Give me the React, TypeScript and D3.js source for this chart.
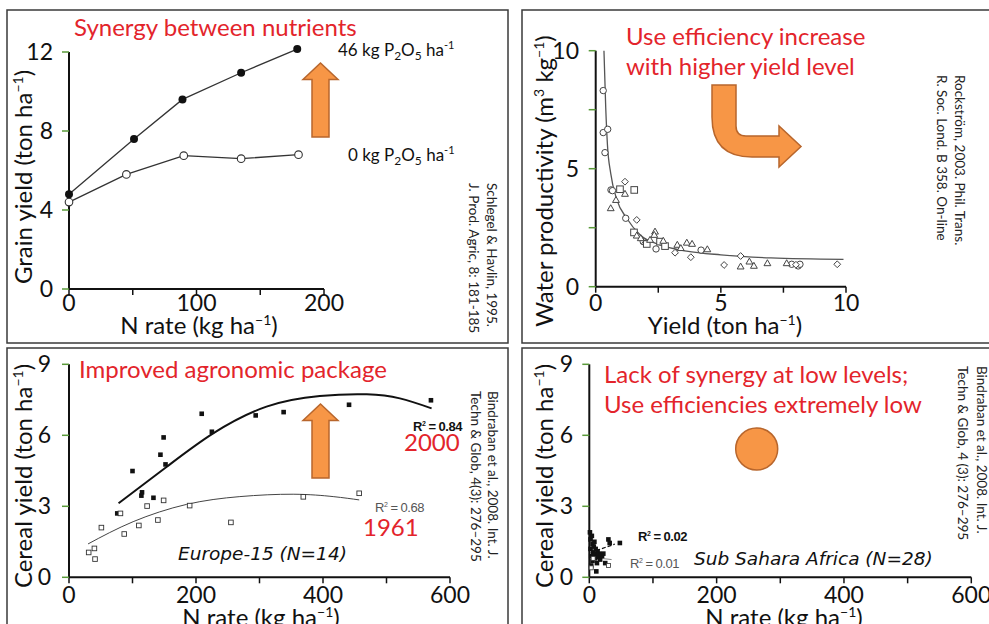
import React from "react";
import * as d3 from "d3";

// panel 1 - Schlegel & Havlin
const p1RateP46 = [0, 51, 89, 135, 179];
const p1YieldP46 = [4.8, 7.6, 9.6, 10.95, 12.15];
const p1RateP0 = [0, 45, 90, 135, 180];
const p1YieldP0 = [4.4, 5.8, 6.75, 6.6, 6.8];
const p1XTicks = [0, 50, 100, 150, 200];
const p1XLabels = [0, 100, 200];
const p1YTicks = [0, 4, 8, 12];

// panel 2 - Rockstrom, water productivity vs yield
const p2CircleX = [0.3, 0.3, 0.48, 0.37, 0.61, 0.67, 1.2, 1.9, 2.41, 4.21, 7.83, 8.09, 8.16];
const p2CircleY = [8.31, 6.53, 6.67, 5.68, 4.1, 4.07, 2.9, 1.91, 1.6, 1.55, 0.95, 0.88, 0.95];
const p2DiamondX = [1.17, 1.64, 1.97, 3.17, 3.8, 5.13, 5.79, 8.0, 9.65];
const p2DiamondY = [4.45, 2.83, 1.84, 1.44, 1.25, 0.92, 1.3, 0.93, 0.95];
const p2SquareX = [0.97, 1.54, 1.53, 2.04, 2.57, 2.77];
const p2SquareY = [4.13, 4.1, 2.3, 1.81, 1.91, 1.72];
const p2TriangleX = [1.17, 0.81, 0.6, 1.64, 2.37, 2.34, 1.8, 2.17, 2.7, 3.26, 3.4, 3.64, 3.85, 4.46, 5.79, 6.14, 6.32, 6.86, 7.63];
const p2TriangleY = [3.93, 3.67, 3.32, 2.16, 2.33, 2.19, 2.05, 1.98, 1.94, 1.77, 1.63, 1.86, 1.81, 1.58, 0.85, 1.06, 0.88, 0.99, 0.99];
const p2FitX = [0.33, 0.4, 0.47, 0.6, 0.84, 1.24, 1.77, 2.57, 3.63, 5, 7, 9.9];
const p2FitY = [10, 7.6, 6.0, 4.8, 3.7, 2.9, 2.2, 1.77, 1.51, 1.35, 1.22, 1.16];
const p2XTicks = [0, 2.5, 5, 7.5, 10];
const p2XLabels = [0, 5, 10];
const p2YTicks = [0, 2.5, 5, 7.5, 10];
const p2YLabels = [0, 5, 10];

// panel 3 - Europe-15
const eu2000N = [76, 100, 114, 115, 133, 144, 149, 152, 209, 225, 294, 338, 441, 570];
const eu2000Y = [2.7, 4.49, 3.45, 3.59, 3.36, 5.18, 5.91, 4.77, 6.91, 6.15, 6.84, 6.98, 7.29, 7.48];
const eu1961N = [31, 40, 41, 51, 81, 87, 110, 123, 140, 149, 190, 255, 369, 457];
const eu1961Y = [1.05, 1.22, 0.77, 2.1, 2.7, 1.83, 2.19, 3.01, 2.42, 3.25, 3.03, 2.32, 3.4, 3.55];
const eu2000FitN = [78, 154, 227, 311, 395, 469, 521, 571];
const eu2000FitY = [3.13, 4.67, 6.08, 7.21, 7.66, 7.73, 7.56, 7.14];
const eu1961FitN = [30, 101, 185, 269, 353, 416, 457];
const eu1961FitY = [1.41, 2.35, 3.08, 3.41, 3.51, 3.41, 3.27];

// panel 4 - Sub Sahara Africa
const ssa2000N = [1, 2, 2, 3, 3, 4, 5, 5, 6, 7, 8, 8, 9, 10, 11, 12, 13, 14, 15, 17, 18, 20, 22, 25, 30, 32, 48, 11];
const ssa2000Y = [1.9, 1.6, 1.2, 0.9, 0.5, 1.75, 1.4, 0.7, 1.05, 1.3, 0.95, 1.5, 0.8, 1.2, 1.0, 0.6, 1.1, 0.85, 1.0, 0.75, 0.95, 0.9, 1.0, 0.6, 1.6, 1.45, 1.45, 0.25];
const ssa1961N = [3, 6, 30];
const ssa1961Y = [0.4, 0.8, 0.5];
const ssa2000FitN = [2, 40];
const ssa2000FitY = [1.05, 1.4];
const ssa1961FitN = [2, 35];
const ssa1961FitY = [0.85, 0.75];

const euXTicks = [0, 100, 200, 300, 400, 500, 600];
const euXLabels = [0, 200, 400, 600];
const euYTicks = [0, 3, 6, 9];

const RED = "#e3242b";
const ORANGE = "#f79646";
const ORANGE_EDGE = "#b8662c";
const FONT = "Lato, 'Open Sans', sans-serif";

// text with a superscript in the middle: before, sup, after
const supText = (before: string, sup: string, after = "", size = 14, up = 9) => [
  <tspan key="a">{before}</tspan>,
  <tspan key="b" dy={-up} fontSize={size}>{sup}</tspan>,
  after ? <tspan key="c" dy={up}>{after}</tspan> : null,
];

const Axes = ({ x, y, xTicks, xLabels, yTicks, yLabels, yLabelX, xLabelY }: any) => {
  const [x0, x1] = x.range();
  const [y0, y1] = y.range();
  return (
    <g fontFamily={FONT} fontSize={23} fill="#111">
      <line x1={x0} x2={x1} y1={y0} y2={y0} stroke="#111" strokeWidth={2} />
      <line x1={x0} x2={x0} y1={y0} y2={y1} stroke="#111" strokeWidth={2} />
      {xTicks.map((t: number) => (
        <line key={"xt" + t} x1={x(t)} x2={x(t)} y1={y0} y2={y0 + 6} stroke="#111" strokeWidth={1.5} />
      ))}
      {yTicks.map((t: number) => (
        <line key={"yt" + t} x1={x0 - 7} x2={x0} y1={y(t)} y2={y(t)} stroke="#5a9a3a" strokeWidth={1.5} />
      ))}
      {xLabels.map((t: number) => (
        <text key={"xl" + t} x={x(t)} y={xLabelY} textAnchor="middle">{t}</text>
      ))}
      {yLabels.map((t: number) => (
        <text key={"yl" + t} x={yLabelX} y={y(t) + 8} textAnchor="end">{t}</text>
      ))}
    </g>
  );
};

const Citation = ({ x1, x2, y, l1, l2 }: any) => (
  <g fontFamily={FONT} fontSize={13.5} fill="#222">
    <text transform={`translate(${x1},${y}) rotate(90)`}>{l1}</text>
    <text transform={`translate(${x2},${y}) rotate(90)`}>{l2}</text>
  </g>
);

const upArrow = (top: number) => {
  const hb = top + 16.5;
  const bot = top + 74;
  return `M312,${bot} L312,${hb} L303,${hb} L320.5,${top} L338,${hb} L329,${hb} L329,${bot} Z`;
};

const triangle = (cx: number, cy: number, s: number) =>
  `M${cx},${cy - s} L${cx + s * 0.95},${cy + s * 0.65} L${cx - s * 0.95},${cy + s * 0.65} Z`;
const diamond = (cx: number, cy: number, s: number) =>
  `M${cx},${cy - s} L${cx + s},${cy} L${cx},${cy + s} L${cx - s},${cy} Z`;

const P2O5 = (lead: string) => [
  <tspan key="a">{lead}P</tspan>,
  <tspan key="b" dy={4} fontSize={12}>2</tspan>,
  <tspan key="c" dy={-4}>O</tspan>,
  <tspan key="d" dy={4} fontSize={12}>5</tspan>,
  <tspan key="e" dy={-4}> ha</tspan>,
  <tspan key="f" dy={-7} fontSize={11}>-1</tspan>,
];

export default function App() {
  const x1 = d3.scaleLinear().domain([0, 200]).range([69, 324]);
  const y1 = d3.scaleLinear().domain([0, 12]).range([289, 52]);
  const x2 = d3.scaleLinear().domain([0, 10]).range([595.7, 846]);
  const y2 = d3.scaleLinear().domain([0, 10]).range([286.7, 50.7]);
  const x3 = d3.scaleLinear().domain([0, 600]).range([69, 450]);
  const y3 = d3.scaleLinear().domain([0, 9]).range([577.3, 364.3]);
  const x4 = d3.scaleLinear().domain([0, 600]).range([589.3, 971.3]);
  const y4 = d3.scaleLinear().domain([0, 9]).range([577.3, 364.3]);

  const line1 = d3.line<[number, number]>().x((d) => x1(d[0])).y((d) => y1(d[1]));
  const fit2 = d3.line<[number, number]>().x((d) => x2(d[0])).y((d) => y2(d[1])).curve(d3.curveMonotoneX);
  const fit3 = d3.line<[number, number]>().x((d) => x3(d[0])).y((d) => y3(d[1])).curve(d3.curveNatural);
  const fit4 = d3.line<[number, number]>().x((d) => x4(d[0])).y((d) => y4(d[1]));

  const zip = (a: number[], b: number[]) => a.map((v, i) => [v, b[i]] as [number, number]);
  const p46 = zip(p1RateP46, p1YieldP46);
  const p0 = zip(p1RateP0, p1YieldP0);

  const sq = 4.6;

  return (
    <div style={{ position: "absolute", left: 0, top: 0 }}>
      <svg width={989} height={624} style={{ display: "block", background: "#fff", whiteSpace: "pre" }}>
        {/* panel frames */}
        <g fill="none" stroke="#3a3a3a" strokeWidth={1.5}>
          <rect x={7} y={10} width={501} height={333} />
          <rect x={522} y={10} width={480} height={333} />
          <rect x={7} y={348} width={501} height={300} />
          <rect x={522} y={348} width={480} height={300} />
        </g>

        {/* ---------- panel 1 ---------- */}
        <text x={74} y={36} fill={RED} fontFamily={FONT} fontSize={24}>Synergy between nutrients</text>
        <Axes x={x1} y={y1} xTicks={p1XTicks} xLabels={p1XLabels} yTicks={p1YTicks} yLabels={p1YTicks} yLabelX={53} xLabelY={311} />
        <path d={line1(p0) || ""} fill="none" stroke="#333" strokeWidth={1.3} />
        <path d={line1(p46) || ""} fill="none" stroke="#333" strokeWidth={1.3} />
        {p0.map((d, i) => (
          <circle key={"o" + i} cx={x1(d[0])} cy={y1(d[1])} r={3.8} fill="#fff" stroke="#333" strokeWidth={1.1} />
        ))}
        {p46.map((d, i) => (
          <circle key={"f" + i} cx={x1(d[0])} cy={y1(d[1])} r={4} fill="#111" />
        ))}
        <g fontFamily={FONT} fontSize={17} fill="#111">
          <text x={338} y={56}>{P2O5("46 kg ")}</text>
          <text x={348} y={161}>{P2O5("0 kg ")}</text>
        </g>
        <path d={upArrow(63)} fill={ORANGE} stroke={ORANGE_EDGE} strokeWidth={1.5} />
        <g fontFamily={FONT} fontSize={24} fill="#111">
          <text x={199} y={334} textAnchor="middle">{supText("N rate (kg ha", "−1", ")")}</text>
          <text transform="translate(32,177) rotate(-90)" textAnchor="middle">{supText("Grain yield  (ton ha", "−1", ")")}</text>
        </g>
        <Citation x1={487} x2={469} y={183} l1="Schlegel & Havlin, 1995." l2="J. Prod. Agric, 8: 181-185" />

        {/* ---------- panel 2 ---------- */}
        <g fontFamily={FONT} fontSize={24} fill={RED}>
          <text x={626} y={45}>Use efficiency increase</text>
          <text x={626} y={75}>with higher yield level</text>
        </g>
        <Axes x={x2} y={y2} xTicks={p2XTicks} xLabels={p2XLabels} yTicks={p2YTicks} yLabels={p2YLabels} yLabelX={579} xLabelY={311} />
        <path d={fit2(zip(p2FitX, p2FitY)) || ""} fill="none" stroke="#555" strokeWidth={1.3} />
        <g fill="#fff" stroke="#444" strokeWidth={1}>
          {p2CircleX.map((v, i) => (
            <circle key={"c" + i} cx={x2(v)} cy={y2(p2CircleY[i])} r={3.2} />
          ))}
          {p2DiamondX.map((v, i) => (
            <path key={"d" + i} d={diamond(x2(v), y2(p2DiamondY[i]), 3.4)} />
          ))}
          {p2SquareX.map((v, i) => (
            <rect key={"s" + i} x={x2(v) - 3.3} y={y2(p2SquareY[i]) - 3.3} width={6.6} height={6.6} />
          ))}
          {p2TriangleX.map((v, i) => (
            <path key={"t" + i} d={triangle(x2(v), y2(p2TriangleY[i]), 3.6)} />
          ))}
        </g>
        <path
          d="M712,85 L736,85 L736,126 Q736,136 746,136 L779,136 L779,126 L801,146.5 L779,167 L779,157 L752,157 Q712,157 712,117 Z"
          fill={ORANGE}
          stroke={ORANGE_EDGE}
          strokeWidth={1.5}
        />
        <g fontFamily={FONT} fontSize={24} fill="#111">
          <text x={725} y={334} textAnchor="middle">{supText("Yield (ton ha", "−1", ")")}</text>
          <text transform="translate(553,181) rotate(-90)" textAnchor="middle">
            <tspan>Water productivity (m</tspan>
            <tspan dy={-9} fontSize={14}>3</tspan>
            <tspan dy={9}> kg</tspan>
            <tspan dy={-9} fontSize={14}>−1</tspan>
            <tspan dy={9}>)</tspan>
          </text>
        </g>
        <Citation x1={955} x2={937} y={75} l1="Rockström, 2003. Phil. Trans." l2="R. Soc. Lond. B 358. On-line" />

        {/* ---------- panel 3 ---------- */}
        <text x={79} y={378} fill={RED} fontFamily={FONT} fontSize={24}>Improved agronomic package</text>
        <Axes x={x3} y={y3} xTicks={euXTicks} xLabels={euXLabels} yTicks={euYTicks} yLabels={euYTicks} yLabelX={51} xLabelY={603} />
        <path d={fit3(zip(eu2000FitN, eu2000FitY)) || ""} fill="none" stroke="#111" strokeWidth={2} />
        <path d={fit3(zip(eu1961FitN, eu1961FitY)) || ""} fill="none" stroke="#444" strokeWidth={1} />
        {eu2000N.map((v, i) => (
          <rect key={"e2" + i} x={x3(v) - sq / 2} y={y3(eu2000Y[i]) - sq / 2} width={sq} height={sq} fill="#111" />
        ))}
        {eu1961N.map((v, i) => (
          <rect key={"e1" + i} x={x3(v) - sq / 2} y={y3(eu1961Y[i]) - sq / 2} width={sq} height={sq} fill="#fff" stroke="#333" strokeWidth={0.9} />
        ))}
        <path d={upArrow(404)} fill={ORANGE} stroke={ORANGE_EDGE} strokeWidth={1.5} />
        <g fontFamily="'Liberation Sans Narrow', 'Liberation Sans', sans-serif" fontSize={13}>
          <text x={413} y={431} fontWeight="bold" fill="#111" letterSpacing={-0.5}>{supText("R", "2", " = 0.84", 7, 5)}</text>
          <text x={375} y={512} fill="#555" letterSpacing={-0.5}>{supText("R", "2", " = 0.68", 7, 5)}</text>
        </g>
        <g fontFamily={FONT} fontSize={24} fill={RED}>
          <text x={404} y={451}>2000</text>
          <text x={363} y={536}>1961</text>
        </g>
        <text x={178} y={560} fontFamily="'DejaVu Sans', sans-serif" fontStyle="italic" fontSize={18.5} fill="#111">Europe-15 (N=14)</text>
        <g fontFamily={FONT} fontSize={24} fill="#111">
          <text x={261} y={626} textAnchor="middle">{supText("N rate (kg ha", "−1", ")")}</text>
          <text transform="translate(32,476) rotate(-90)" textAnchor="middle">{supText("Cereal yield  (ton ha", "−1", ")")}</text>
        </g>
        <Citation x1={488} x2={471} y={391} l1="Bindraban et al., 2008. Int. J." l2="Techn & Glob, 4(3): 276–295" />

        {/* ---------- panel 4 ---------- */}
        <g fontFamily={FONT} fontSize={24} fill={RED}>
          <text x={604} y={383}>Lack of synergy at low levels;</text>
          <text x={604} y={413}>Use efficiencies extremely low</text>
        </g>
        <Axes x={x4} y={y4} xTicks={euXTicks} xLabels={euXLabels} yTicks={euYTicks} yLabels={euYTicks} yLabelX={573} xLabelY={603} />
        <path d={fit4(zip(ssa2000FitN, ssa2000FitY)) || ""} fill="none" stroke="#111" strokeWidth={1.2} strokeDasharray="4 2" />
        <path d={fit4(zip(ssa1961FitN, ssa1961FitY)) || ""} fill="none" stroke="#666" strokeWidth={0.8} />
        {ssa2000N.map((v, i) => (
          <rect key={"s2" + i} x={x4(v) - sq / 2} y={y4(ssa2000Y[i]) - sq / 2} width={sq} height={sq} fill="#111" />
        ))}
        {ssa1961N.map((v, i) => (
          <rect key={"s1" + i} x={x4(v) - 2} y={y4(ssa1961Y[i]) - 2} width={4} height={4} fill="#fff" stroke="#333" strokeWidth={0.8} />
        ))}
        <circle cx={756.7} cy={449} r={21} fill={ORANGE} stroke={ORANGE_EDGE} strokeWidth={1.5} />
        <g fontFamily="'Liberation Sans Narrow', 'Liberation Sans', sans-serif" fontSize={13}>
          <text x={638} y={541} fontWeight="bold" fill="#111" letterSpacing={-0.5}>{supText("R", "2", " = 0.02", 7, 5)}</text>
          <text x={630} y={568} fill="#555" letterSpacing={-0.5}>{supText("R", "2", " = 0.01", 7, 5)}</text>
        </g>
        <text x={694} y={565} fontFamily="'DejaVu Sans', sans-serif" fontStyle="italic" fontSize={18.5} fill="#111">Sub Sahara Africa (N=28)</text>
        <g fontFamily={FONT} fontSize={24} fill="#111">
          <text x={784} y={626} textAnchor="middle">{supText("N rate (kg ha", "−1", ")")}</text>
          <text transform="translate(553,476) rotate(-90)" textAnchor="middle">{supText("Cereal yield  (ton ha", "−1", ")")}</text>
        </g>
        <Citation x1={977} x2={958} y={366} l1="Bindraban et al., 2008. Int. J." l2="Techn & Glob, 4 (3): 276–295" />
      </svg>
    </div>
  );
}
